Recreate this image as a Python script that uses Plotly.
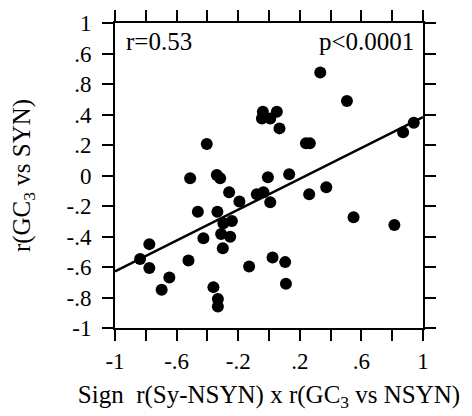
import plotly.graph_objects as go

# x: Sign r(Sy-NSYN) x r(GC3 vs NSYN); y: r(GC3 vs SYN)
x_vals = [0.333, 0.506, -0.040, 0.051, -0.046, 0.008, 0.068, -0.404, 0.240, 0.265,
          0.871, 0.940, -0.512, -0.339, -0.317, -0.007, 0.131, -0.259, -0.192, -0.079,
          -0.036, 0.008, 0.261, 0.372, -0.462, -0.335, -0.296, -0.241, -0.311, -0.252,
          -0.426, -0.300, -0.777, -0.837, -0.777, -0.647, -0.697, -0.523, -0.361, -0.332,
          -0.332, -0.129, 0.023, 0.105, 0.110, 0.549, 0.814]
y_vals = [0.675, 0.488, 0.418, 0.418, 0.374, 0.374, 0.309, 0.206, 0.211, 0.211,
          0.283, 0.346, -0.018, 0.003, -0.018, -0.012, 0.008, -0.110, -0.171, -0.123,
          -0.110, -0.175, -0.123, -0.077, -0.237, -0.237, -0.313, -0.298, -0.383, -0.401,
          -0.411, -0.477, -0.450, -0.547, -0.607, -0.669, -0.749, -0.558, -0.732, -0.810,
          -0.859, -0.597, -0.538, -0.568, -0.710, -0.274, -0.324]

fit_intercept = -0.123
fit_slope = 0.506
fit_x = [-1, 1]

x_tickvals = [-1, -0.8, -0.6, -0.4, -0.2, 0, 0.2, 0.4, 0.6, 0.8, 1]
x_ticktext = ["-1", "", "-.6", "", "-.2", "", ".2", "", ".6", "", "1"]
y_tickvals = [-1, -0.8, -0.6, -0.4, -0.2, 0, 0.2, 0.4, 0.6, 0.8, 1]
y_ticktext = ["-1", "-.8", "-.6", "-.4", "-.2", "0", ".2", ".4", ".8", ".6", "1"]

r_text = "r=0.53"
p_text = "p<0.0001"

FONT = "'Liberation Serif', 'Times New Roman', 'DejaVu Serif', serif"

fig = go.Figure()
fig.add_trace(go.Scatter(
    x=fit_x, y=[fit_intercept + fit_slope * v for v in fit_x],
    mode="lines", line=dict(color="black", width=2.5), showlegend=False,
    hoverinfo="skip"))
fig.add_trace(go.Scatter(
    x=x_vals, y=y_vals, mode="markers",
    marker=dict(color="black", size=12, line=dict(width=0)),
    showlegend=False))

axis_common = dict(
    showline=True, linecolor="black", linewidth=2, mirror="ticks",
    ticks="outside", ticklen=11, tickwidth=2, tickcolor="black",
    showgrid=False, zeroline=False, tickmode="array", automargin=False,
    tickfont=dict(family=FONT, size=23, color="black"),
)

fig.update_xaxes(range=[-1, 1], tickvals=x_tickvals, ticktext=x_ticktext,
                 title=dict(text="Sign  r(Sy-NSYN) x r(GC<sub>3</sub> vs NSYN)",
                            font=dict(family=FONT, size=25, color="black"),
                            standoff=13),
                 ticklabelstandoff=0, **axis_common)
fig.update_yaxes(range=[-1, 1], tickvals=y_tickvals, ticktext=y_ticktext,
                 title=dict(text="r(GC<sub>3</sub> vs SYN)",
                            font=dict(family=FONT, size=25, color="black"),
                            standoff=34),
                 ticklabelstandoff=6, **axis_common)

fig.add_annotation(x=-0.94, y=0.88, xref="x", yref="y", text=r_text,
                   showarrow=False, xanchor="left", yanchor="middle",
                   font=dict(family=FONT, size=25, color="black"))
fig.add_annotation(x=0.955, y=0.88, xref="x", yref="y", text=p_text,
                   showarrow=False, xanchor="right", yanchor="middle",
                   font=dict(family=FONT, size=25, color="black"))

fig.update_layout(
    template="none",
    font=dict(family=FONT, size=23, color="black"),
    width=464, height=408, autosize=False,
    margin=dict(l=107, r=49, t=15, b=88),
    plot_bgcolor="white", paper_bgcolor="white",
)

fig.write_html("out.html")
